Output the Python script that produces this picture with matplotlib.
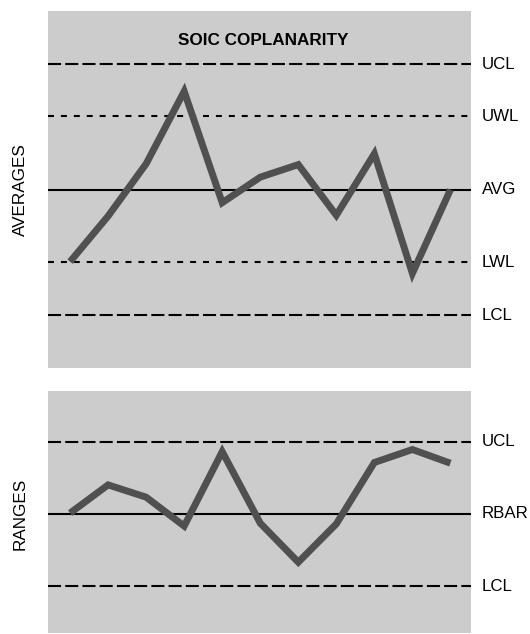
import matplotlib
matplotlib.use('Agg')
from matplotlib import pyplot as plt

plt.rcParams['font.family'] = ['Liberation Sans', 'DejaVu Sans']
plt.rcParams['lines.scale_dashes'] = False

# averages chart (units of sigma around AVG)
avg_samples = [1, 2, 3, 4, 5, 6, 7, 8, 9, 10, 11]
avg_values = [-1.72, -0.63, 0.62, 2.35, -0.31, 0.30, 0.60, -0.61, 0.86, -2.0, 0.0]
avg_limits = [3.0, 1.75, 0.0, -1.73, -3.0]
avg_names = ['UCL', 'UWL', 'AVG', 'LWL', 'LCL']
avg_styles = ['long', 'short', 'solid', 'short', 'long']

# ranges chart
rng_samples = [1, 2, 3, 4, 5, 6, 7, 8, 9, 10, 11]
rng_values = [0.01, 0.40, 0.23, -0.17, 0.86, -0.13, -0.67, -0.14, 0.71, 0.89, 0.70]
rng_limits = [1.0, 0.0, -1.0]
rng_names = ['UCL', 'RBAR', 'LCL']
rng_styles = ['long', 'solid', 'long']

dash = {'long': (0, (9.4, 3.0)), 'short': (0, (4.3, 5.0)), 'solid': '-'}

fig = plt.figure(figsize=(5.3, 6.34), dpi=100)
ax1 = fig.add_axes([0.0906, 0.4196, 0.798, 0.563])
ax2 = fig.add_axes([0.0906, 0.0016, 0.798, 0.3817])


def draw(ax, xs, ys, limits, names, styles, ylim, ylabel):
    ax.set_facecolor('#cccccc')
    for y, name, st in zip(limits, names, styles):
        ax.axhline(y, color='black', lw=1.5, linestyle=dash[st])
        ax.text(1.026, y, name, transform=ax.get_yaxis_transform(),
                ha='left', va='center', fontsize=12.2)
    ax.plot(xs, ys, color='#505050', lw=5, solid_joinstyle='miter',
            solid_capstyle='butt')
    ax.set_xlim(0.42, 11.54)
    ax.set_ylim(*ylim)
    ax.set_xticks([])
    ax.set_yticks([])
    for s in ax.spines.values():
        s.set_visible(False)
    ax.text(-0.066, 0.5 + (0 - sum(ylim) / 2) / (ylim[1] - ylim[0]), ylabel,
            transform=ax.transAxes, rotation=90, ha='center', va='center',
            fontsize=12.3)


draw(ax1, avg_samples, avg_values, avg_limits, avg_names, avg_styles,
     (-4.26, 4.27), 'AVERAGES')
ax1.text(0.508, 0.918, 'SOIC COPLANARITY', transform=ax1.transAxes,
         ha='center', va='center', fontsize=12.3, fontweight='bold')

draw(ax2, rng_samples, rng_values, rng_limits, rng_names, rng_styles,
     (-1.65, 1.70), 'RANGES')

plt.savefig('out.png', dpi=100)
